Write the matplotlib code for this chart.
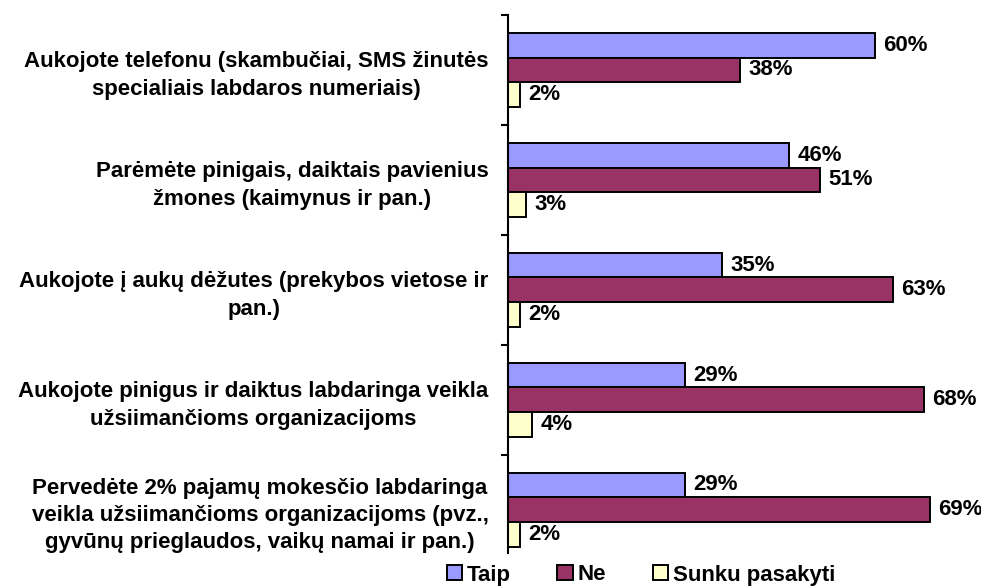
import numpy as np
import matplotlib.pyplot as plt
from matplotlib.patches import Patch

plt.rcParams['font.family'] = ['Liberation Sans', 'DejaVu Sans']

categories = [
    "Aukojote telefonu (skambučiai, SMS žinutės\nspecialiais labdaros numeriais)",
    "Parėmėte pinigais, daiktais pavienius\nžmones (kaimynus ir pan.)",
    "Aukojote į aukų dėžutes (prekybos vietose ir\npan.)",
    "Aukojote pinigus ir daiktus labdaringa veikla\nužsiimančioms organizacijoms",
    "Pervedėte 2% pajamų mokesčio labdaringa\nveikla užsiimančioms organizacijoms (pvz.,\ngyvūnų prieglaudos, vaikų namai ir pan.)",
]
series_names = ["Taip", "Ne", "Sunku pasakyti"]
taip = [60, 46, 35, 29, 29]
ne = [38, 51, 63, 68, 69]
sunku = [2, 3, 2, 4, 2]
colors = ["#9999FF", "#993366", "#FFFFCC"]

fs = 16

fig = plt.figure(figsize=(9.81, 5.87), dpi=100)
ax = fig.add_axes([508 / 981, 1 - 564.7 / 587, 473 / 981, 549.7 / 587])

y = np.arange(len(categories))
h = 0.225
for k, vals in enumerate([taip, ne, sunku]):
    pos = y + (k - 1) * h
    ax.barh(pos, vals, height=h, color=colors[k], edgecolor="black", linewidth=1.4)
    for p, v in zip(pos, vals):
        ax.text(v + 1.3, p, f"{v}%", va="center", ha="left",
                fontsize=fs, fontweight="bold")

ax.set_xlim(0, 473 / 6.116)
ax.set_ylim(4.5, -0.5)

for s in ["top", "right", "bottom"]:
    ax.spines[s].set_visible(False)
ax.spines["left"].set_linewidth(1.5)
ax.spines["left"].set_bounds(-0.5, 4.39)
ax.set_xticks([])

ax.set_yticks(y)
ax.set_yticklabels(categories, fontsize=fs, fontweight="bold",
                   multialignment="center", linespacing=1.4)
ax.tick_params(axis="y", which="major", length=0, pad=14)
ax.set_yticks(np.arange(-0.5, 4.0, 1.0), minor=True)
ax.tick_params(axis="y", which="minor", length=5, width=1.5, direction="out")

handles = [Patch(facecolor=c, edgecolor="black", linewidth=1.4) for c in colors]
fig.legend(handles, series_names, loc="center", ncol=3, frameon=False,
           bbox_to_anchor=(641 / 981, 1 - 575 / 587),
           prop={"size": fs, "weight": "bold"},
           handlelength=0.68, handleheight=0.68, handletextpad=0.23,
           columnspacing=2.1, borderaxespad=0, borderpad=0)

fig.savefig("out.png", dpi=100)
